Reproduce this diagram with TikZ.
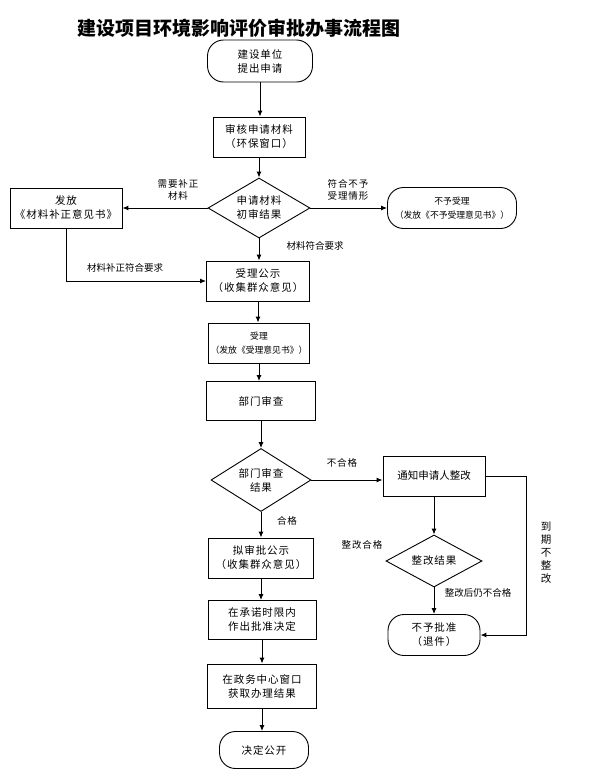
\documentclass[tikz,border=0pt]{standalone}
\usepackage{fontspec}
\newfontfamily\cjk[LetterSpace=9]{Noto Sans CJK SC}
\newfontfamily\cjkn{Noto Sans CJK SC}
\usetikzlibrary{shapes.geometric,arrows.meta}
\begin{document}
\begin{tikzpicture}[x=1pt,y=-1pt,
  every node/.style={font=\cjk\fontsize{10.5}{14}\selectfont},
  box/.style={draw,line width=0.9pt,inner sep=2pt,align=center},
  term/.style={box,rounded corners=16pt},
  dec/.style={box,diamond,aspect=1.7,inner sep=0pt},
  arr/.style={line width=1pt,-{Latex[length=6pt,width=5pt]}},
  lbl/.style={font=\cjk\fontsize{9.5}{12.5}\selectfont,align=center,inner sep=1pt}]
\useasboundingbox (0,0) rectangle (589,784);
\node[font=\cjkn\bfseries\fontsize{19}{22}\selectfont,anchor=west,inner sep=0pt] (title) at (77,28) {建设项目环境影响评价审批办事流程图};
\node[term,minimum width=105,minimum height=42] (s) at (260,61) {建设单位\\提出申请};
\node[box,minimum width=92,minimum height=40] (b1) at (259,137) {审核申请材料\\（环保窗口）};
\node[dec,minimum width=102,minimum height=60] (d1) at (259,208) {申请材料\\初审结果};
\node[box,minimum width=112,minimum height=40] (bl) at (66,208) {发放\\《材料补正意见书》};
\node[term,minimum width=129,minimum height=41,font=\cjkn\fontsize{8.8}{14}\selectfont] (r1) at (452,208) {不予受理\\（发放《不予受理意见书》）};
\node[box,minimum width=103,minimum height=40] (b2) at (258,281) {受理公示\\（收集群众意见）};
\node[box,minimum width=101,minimum height=40,font=\cjkn\fontsize{8.8}{14}\selectfont] (b3) at (259,343) {受理\\（发放《受理意见书》）};
\node[box,minimum width=109,minimum height=39] (b4) at (261,401) {部门审查};
\node[dec,minimum width=100,minimum height=63] (d2) at (261,480) {部门审查\\结果};
\node[box,minimum width=102,minimum height=40,font=\cjkn\fontsize{10.5}{14}\selectfont] (b5) at (434,476) {通知申请人整改};
\node[dec,minimum width=96,minimum height=52,aspect=1.85] (d3) at (434,561) {整改结果};
\node[term,minimum width=92,minimum height=41] (r2) at (434,635) {不予批准\\（退件）};
\node[box,minimum width=105,minimum height=40] (b6) at (261,558) {拟审批公示\\（收集群众意见）};
\node[box,minimum width=108,minimum height=39] (b7) at (262,620) {在承诺时限内\\作出批准决定};
\node[box,minimum width=109,minimum height=44] (b8) at (262,686) {在政务中心窗口\\获取办理结果};
\node[term,minimum width=89,minimum height=37] (r3) at (264,750) {决定公开};
% labels
\node[lbl] (l1) at (178,190) {需要补正\\材料};
\node[lbl] (l2) at (348,190) {符合不予\\受理情形};
\node[lbl,font=\cjkn\fontsize{9.5}{12.5}\selectfont] (l3) at (315,246) {材料符合要求};
\node[lbl,font=\cjkn\fontsize{9.5}{12.5}\selectfont] (l4) at (125,268) {材料补正符合要求};
\node[lbl] (l5) at (342,463) {不合格};
\node[lbl,font=\cjkn\fontsize{10.5}{13}\selectfont] (l6) at (546,553) {到\\期\\不\\整\\改};
\node[lbl] (l7) at (362,545) {整改合格};
\node[lbl,font=\cjkn\fontsize{9.5}{12.5}\selectfont] (l8) at (478,593) {整改后仍不合格};
\node[lbl] (l9) at (287,521) {合格};
% connectors
\draw[arr] (s.south) -- (s.south |- b1.north);
\draw[arr] (b1.south) -- (b1.south |- d1.north);
\draw[arr] (d1.west) -- (bl.east);
\draw[arr] (d1.east) -- (r1.west);
\draw[arr] (d1.south) -- (d1.south |- b2.north);
\draw[arr] (bl.south) |- (b2.west);
\draw[arr] (b2.south) -- (b2.south |- b3.north);
\draw[arr] (b3.south) -- (b3.south |- b4.north);
\draw[arr] (b4.south) -- (b4.south |- d2.north);
\draw[arr] (d2.east) -- (d2.east -| b5.west);
\draw[arr] (b5.east) -- ++(41,0) |- (r2.east);
\draw[arr] (b5.south) -- (b5.south |- d3.north);
\draw[arr] (d3.south) -- (d3.south |- r2.north);
\draw[arr] (d2.south) -- (d2.south |- b6.north);
\draw[arr] (b6.south) -- (b6.south |- b7.north);
\draw[arr] (b7.south) -- (b7.south |- b8.north);
\draw[arr] (b8.south) -- (b8.south |- r3.north);
\end{tikzpicture}
\end{document}
